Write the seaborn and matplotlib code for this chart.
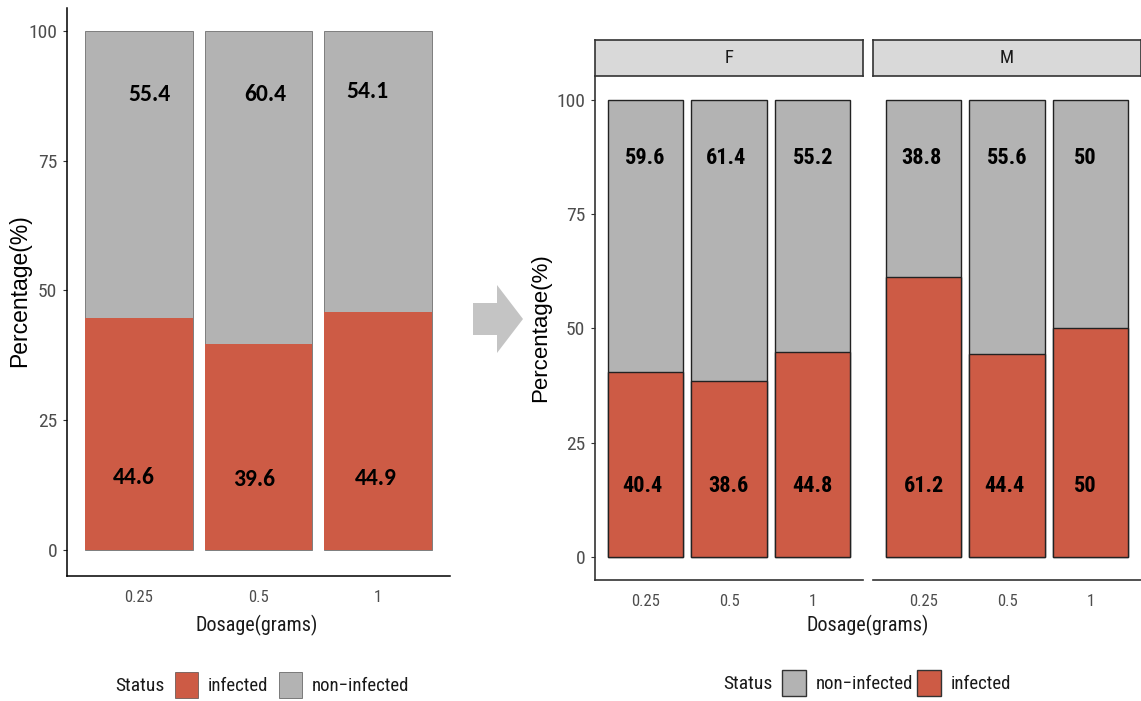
import matplotlib
matplotlib.use("Agg")
import matplotlib.pyplot as plt
import seaborn as sns
from matplotlib.patches import Patch, Polygon
from matplotlib import font_manager as fm

# ---------------- data ----------------
dosage = ["0.25", "0.5", "1"]
sexes = ["F", "M"]
status_left = ["infected", "non\u2212infected"]
status_right = ["non\u2212infected", "infected"]

left_infected = [44.6, 39.6, 45.9]
left_noninfected = [55.4, 60.4, 54.1]
left_infected_labels = ["44.6", "39.6", "44.9"]
left_noninfected_labels = ["55.4", "60.4", "54.1"]

F_infected = [40.4, 38.6, 44.8]
F_noninfected = [59.6, 61.4, 55.2]
M_infected = [61.2, 44.4, 50]
M_noninfected = [38.8, 55.6, 50]

yticks = [0, 25, 50, 75, 100]

# ---------------- style ----------------
RED = "#CD5B45"
GRAY = "#B3B3B3"
STRIP = "#D9D9D9"
TICKC = "#4D4D4D"
TXT = "#1A1A1A"

sns.set_theme(style="white")
names = {f.name for f in fm.fontManager.ttflist}
COND = "Roboto Condensed" if "Roboto Condensed" in names else "DejaVu Sans"
CSTRETCH = "normal" if COND == "Roboto Condensed" else "condensed"
CAL = "Carlito" if "Carlito" in names else "Lato"
plt.rcParams["font.family"] = ["Liberation Sans", "DejaVu Sans"]


def cfont(size, weight="normal"):
    return fm.FontProperties(family=[COND, "DejaVu Sans"], stretch=CSTRETCH, size=size, weight=weight)


W, H = 1141, 701
fig = plt.figure(figsize=(W / 100, H / 100), dpi=100)


def px_axes(x0, y0, x1, y1):
    return fig.add_axes([x0 / W, 1 - y1 / H, (x1 - x0) / W, (y1 - y0) / H])


def stacked(ax, inf, non, edge, lw_total, lw_inf):
    totals = [a + b for a, b in zip(inf, non)]
    sns.barplot(x=dosage, y=totals, order=dosage, color=GRAY, saturation=1,
                width=0.9, edgecolor=edge, linewidth=lw_total, errorbar=None, ax=ax)
    sns.barplot(x=dosage, y=inf, order=dosage, color=RED, saturation=1,
                width=0.9, edgecolor=edge, linewidth=lw_inf, errorbar=None, ax=ax)
    ax.set_xlim(-0.6, 2.6)
    ax.set_xlabel("")
    ax.set_ylabel("")
    ax.set_facecolor("white")
    for s in ["top", "right"]:
        ax.spines[s].set_visible(False)


# ---------------- left panel ----------------
axL = px_axes(67, 8, 450, 576)
stacked(axL, left_infected, left_noninfected, "#5A5A5A", 0.5, 0)
axL.set_ylim(-5, 104.4)
axL.set_yticks(yticks)
for s in ["left", "bottom"]:
    axL.spines[s].set_color("black")
    axL.spines[s].set_linewidth(1.1)
axL.tick_params(axis="y", length=3, width=0.8, color="#333333", pad=4, left=True)
axL.tick_params(axis="x", length=0, pad=10)
for t in axL.get_yticklabels():
    t.set_fontproperties(cfont(14))
    t.set_color(TICKC)
for t in axL.get_xticklabels():
    t.set_fontproperties(cfont(12))
    t.set_color(TICKC)

top_dx = [0.09, 0.06, -0.09]
top_y = [87.8, 87.8, 88.3]
bot_dx = [-0.04, -0.04, -0.02]
bot_y = [14.0, 13.5, 13.7]
for i in range(3):
    axL.text(i + top_dx[i], top_y[i], left_noninfected_labels[i], ha="center", va="center",
             fontsize=17, fontweight="bold", family=CAL, color="black")
    axL.text(i + bot_dx[i], bot_y[i], left_infected_labels[i], ha="center", va="center",
             fontsize=17, fontweight="bold", family=CAL, color="black")

fig.text(20 / W, 1 - 291 / H, "Percentage(%)", rotation=90, ha="center", va="center",
         fontsize=16.5, color="black")
fig.text(257 / W, 1 - 625 / H, "Dosage(grams)", ha="center", va="center",
         fontproperties=cfont(14.5), color=TXT)

fig.text(165 / W, 1 - 686 / H, "Status", ha="right", va="center",
         fontproperties=cfont(14), color=TXT)
hL = [Patch(facecolor=RED, edgecolor="#333333", linewidth=0.4),
      Patch(facecolor=GRAY, edgecolor="#333333", linewidth=0.4)]
legL = fig.legend(hL, status_left, ncol=2, frameon=False,
                  loc="center left", bbox_to_anchor=(175 / W, 1 - 685 / H),
                  prop=cfont(13.5), handlelength=1.25, handleheight=1.7,
                  handletextpad=0.5, columnspacing=0.55, borderpad=0, borderaxespad=0)
for t in legL.get_texts():
    t.set_color(TXT)

# ---------------- arrow ----------------
arrow_px = [(473, 303), (497, 303), (497, 285), (523, 319), (497, 353), (497, 335), (473, 335)]
fig.patches.append(Polygon([(x / W, 1 - y / H) for x, y in arrow_px], closed=True,
                           facecolor="#C4C4C4", edgecolor="none", transform=fig.transFigure))

# ---------------- right panels ----------------
axF = px_axes(595, 76, 863, 580)
axM = px_axes(873, 76, 1141, 580)
panels = {"F": (axF, F_infected, F_noninfected), "M": (axM, M_infected, M_noninfected)}
for sx in sexes:
    ax, inf, non = panels[sx]
    stacked(ax, inf, non, "#222222", 1.0, 1.0)
    ax.set_ylim(-5, 105.2)
    ax.set_yticks(yticks)
    ax.spines["bottom"].set_color("#333333")
    ax.spines["bottom"].set_linewidth(1.2)
    ax.tick_params(axis="x", length=0, pad=10)
    for t in ax.get_xticklabels():
        t.set_fontproperties(cfont(12))
        t.set_color(TICKC)

axF.spines["left"].set_color("#333333")
axF.spines["left"].set_linewidth(1.2)
axF.tick_params(axis="y", length=3, width=0.8, color="#333333", pad=4, left=True)
for t in axF.get_yticklabels():
    t.set_fontproperties(cfont(14))
    t.set_color(TICKC)
axM.spines["left"].set_visible(False)
axM.tick_params(axis="y", left=False, labelleft=False)

rF_top_dx = [0.0, -0.04, 0.01]
rM_top_dx = [-0.02, 0.0, -0.07]
rF_bot_dx = [-0.04, -0.01, 0.0]
rM_bot_dx = [0.01, -0.03, -0.065]
r_top_y = 87.3
r_bot_y = 15.5
for sx, tdx, bdx in [("F", rF_top_dx, rF_bot_dx), ("M", rM_top_dx, rM_bot_dx)]:
    ax, inf, non = panels[sx]
    for i in range(3):
        ax.text(i + tdx[i], r_top_y, f"{non[i]:g}", ha="center", va="center",
                fontproperties=cfont(16, "bold"), color="black")
        ax.text(i + bdx[i], r_bot_y, f"{inf[i]:g}", ha="center", va="center",
                fontproperties=cfont(16, "bold"), color="black")

# strips
for sx, (x0, x1) in zip(sexes, [(595, 863), (873, 1141)]):
    sax = px_axes(x0, 40, x1, 76)
    sax.set_facecolor(STRIP)
    sax.set_xticks([])
    sax.set_yticks([])
    for s in sax.spines.values():
        s.set_visible(True)
        s.set_color("#333333")
        s.set_linewidth(1.2)
    sax.text(0.5, 0.5, sx, ha="center", va="center", transform=sax.transAxes,
             fontproperties=cfont(13.5), color=TXT)

fig.text(541 / W, 1 - 328 / H, "Percentage(%)", rotation=90, ha="center", va="center",
         fontsize=16, color="black")
fig.text(868 / W, 1 - 625 / H, "Dosage(grams)", ha="center", va="center",
         fontproperties=cfont(14.5), color=TXT)

fig.text(773 / W, 1 - 684 / H, "Status", ha="right", va="center",
         fontproperties=cfont(14), color=TXT)
hR = [Patch(facecolor=GRAY, edgecolor="#333333", linewidth=1.0),
      Patch(facecolor=RED, edgecolor="#333333", linewidth=1.0)]
legR = fig.legend(hR, status_right, ncol=2, frameon=False,
                  loc="center left", bbox_to_anchor=(782 / W, 1 - 683 / H),
                  prop=cfont(13.5), handlelength=1.3, handleheight=1.7,
                  handletextpad=0.5, columnspacing=0.2, borderpad=0, borderaxespad=0)
for t in legR.get_texts():
    t.set_color(TXT)

fig.savefig("out.png", dpi=100, facecolor="white")
